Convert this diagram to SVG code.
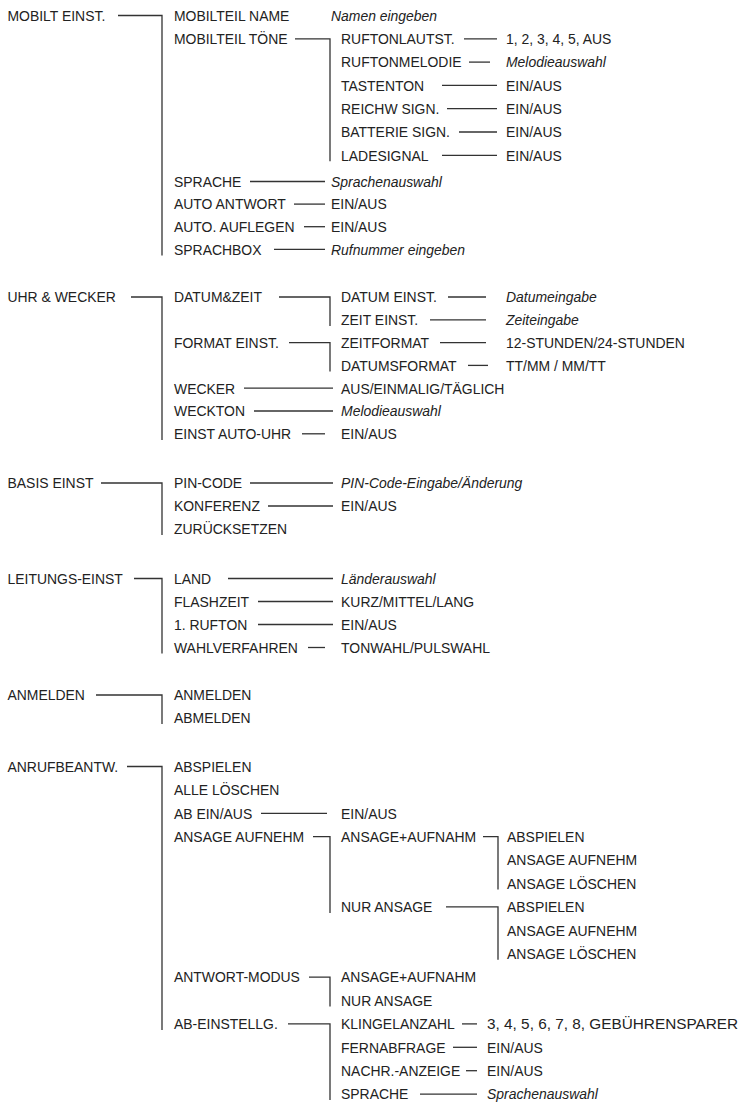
<svg xmlns="http://www.w3.org/2000/svg" width="745" height="1104" viewBox="0 0 745 1104">
<style>
text{font-family:"Liberation Sans",Arial,sans-serif;font-size:15px;fill:#222}
.i{font-style:italic}
#connectors path{fill:none;stroke:#333;stroke-width:1.3}
</style>
<rect width="745" height="1104" fill="#fff"/>
<g id="connectors">
<path d="M118 15.5H162V255.5"/>
<path d="M295 38.8H330V161.3"/>
<path d="M464 38.8H497"/>
<path d="M469 62.1H490"/>
<path d="M442 85.4H497"/>
<path d="M447 108.7H497"/>
<path d="M459 132H497"/>
<path d="M442 155.3H497"/>
<path d="M250 181.5H325"/>
<path d="M294 204.1H325"/>
<path d="M304 226.7H325"/>
<path d="M274 249.3H325"/>
<path d="M131 297H162V440"/>
<path d="M279 297H330V326"/>
<path d="M289 342.6H330V371.4"/>
<path d="M448 297H486"/>
<path d="M430 319.8H486"/>
<path d="M440 342.6H486"/>
<path d="M468 365.4H488"/>
<path d="M244 388.2H333"/>
<path d="M254 411H333"/>
<path d="M302 433.8H325"/>
<path d="M101 483H162V535"/>
<path d="M250 483H333"/>
<path d="M268 506H333"/>
<path d="M134 578.5H162V653.5"/>
<path d="M228 578.5H333"/>
<path d="M258 601.5H333"/>
<path d="M258 624.5H333"/>
<path d="M308 647.5H325"/>
<path d="M96 695H162V724"/>
<path d="M127 766.5H162V1030"/>
<path d="M261 813.3H327"/>
<path d="M313 836.7H330V912.9"/>
<path d="M483 836.7H498V889.5"/>
<path d="M446 906.9H498V959.7"/>
<path d="M309 977.1H330V1006.5"/>
<path d="M288 1023.9H330V1100"/>
<path d="M462 1023.9H477"/>
<path d="M453 1047.3H477"/>
<path d="M466 1070.7H477"/>
<path d="M420 1094.1H477"/>
</g>
<g id="nodes" transform="scale(0.93 1)">
<g id="mobilt-einst"><text x="8.06" y="20.9">MOBILT EINST.</text></g>
<g id="mobilteil-name"><text x="187.1" y="20.9">MOBILTEIL NAME</text><text class="i" x="355.9" y="20.9">Namen eingeben</text></g>
<g id="mobilteil-toene"><text x="187.1" y="44.2">MOBILTEIL TÖNE</text></g>
<g id="ruftonlautst"><text x="366.7" y="44.2">RUFTONLAUTST.</text><text x="544.1" y="44.2">1, 2, 3, 4, 5, AUS</text></g>
<g id="ruftonmelodie"><text x="366.7" y="67.5">RUFTONMELODIE</text><text class="i" x="544.1" y="67.5">Melodieauswahl</text></g>
<g id="tastenton"><text x="366.7" y="90.8">TASTENTON</text><text x="544.1" y="90.8">EIN/AUS</text></g>
<g id="reichw-sign"><text x="366.7" y="114.1">REICHW SIGN.</text><text x="544.1" y="114.1">EIN/AUS</text></g>
<g id="batterie-sign"><text x="366.7" y="137.4">BATTERIE SIGN.</text><text x="544.1" y="137.4">EIN/AUS</text></g>
<g id="ladesignal"><text x="366.7" y="160.7">LADESIGNAL</text><text x="544.1" y="160.7">EIN/AUS</text></g>
<g id="sprache-1"><text x="187.1" y="186.9">SPRACHE</text><text class="i" x="355.9" y="186.9">Sprachenauswahl</text></g>
<g id="auto-antwort"><text x="187.1" y="209.5">AUTO ANTWORT</text><text x="355.9" y="209.5">EIN/AUS</text></g>
<g id="auto-auflegen"><text x="187.1" y="232.1">AUTO. AUFLEGEN</text><text x="355.9" y="232.1">EIN/AUS</text></g>
<g id="sprachbox"><text x="187.1" y="254.7">SPRACHBOX</text><text class="i" x="355.9" y="254.7">Rufnummer eingeben</text></g>

<g id="uhr-wecker"><text x="8.06" y="302.4">UHR &amp; WECKER</text></g>
<g id="datum-zeit"><text x="187.1" y="302.4">DATUM&amp;ZEIT</text></g>
<g id="datum-einst"><text x="366.7" y="302.4">DATUM EINST.</text><text class="i" x="544.1" y="302.4">Datumeingabe</text></g>
<g id="zeit-einst"><text x="366.7" y="325.2">ZEIT EINST.</text><text class="i" x="544.1" y="325.2">Zeiteingabe</text></g>
<g id="format-einst"><text x="187.1" y="348">FORMAT EINST.</text></g>
<g id="zeitformat"><text x="366.7" y="348">ZEITFORMAT</text><text x="544.1" y="348">12-STUNDEN/24-STUNDEN</text></g>
<g id="datumsformat"><text x="366.7" y="370.8">DATUMSFORMAT</text><text x="544.1" y="370.8">TT/MM / MM/TT</text></g>
<g id="wecker"><text x="187.1" y="393.6">WECKER</text><text x="366.7" y="393.6">AUS/EINMALIG/TÄGLICH</text></g>
<g id="weckton"><text x="187.1" y="416.4">WECKTON</text><text class="i" x="366.7" y="416.4">Melodieauswahl</text></g>
<g id="einst-auto-uhr"><text x="187.1" y="439.2">EINST AUTO-UHR</text><text x="366.7" y="439.2">EIN/AUS</text></g>

<g id="basis-einst"><text x="8.06" y="488.4">BASIS EINST</text></g>
<g id="pin-code"><text x="187.1" y="488.4">PIN-CODE</text><text class="i" x="366.7" y="488.4">PIN-Code-Eingabe/Änderung</text></g>
<g id="konferenz"><text x="187.1" y="511.4">KONFERENZ</text><text x="366.7" y="511.4">EIN/AUS</text></g>
<g id="zuruecksetzen"><text x="187.1" y="534.4">ZURÜCKSETZEN</text></g>

<g id="leitungs-einst"><text x="8.06" y="583.9">LEITUNGS-EINST</text></g>
<g id="land"><text x="187.1" y="583.9">LAND</text><text class="i" x="366.7" y="583.9">Länderauswahl</text></g>
<g id="flashzeit"><text x="187.1" y="606.9">FLASHZEIT</text><text x="366.7" y="606.9">KURZ/MITTEL/LANG</text></g>
<g id="rufton-1"><text x="187.1" y="629.9">1. RUFTON</text><text x="366.7" y="629.9">EIN/AUS</text></g>
<g id="wahlverfahren"><text x="187.1" y="652.9">WAHLVERFAHREN</text><text x="366.7" y="652.9">TONWAHL/PULSWAHL</text></g>

<g id="anmelden-menu"><text x="8.06" y="700.4">ANMELDEN</text></g>
<g id="anmelden"><text x="187.1" y="700.4">ANMELDEN</text></g>
<g id="abmelden"><text x="187.1" y="723.4">ABMELDEN</text></g>

<g id="anrufbeantw"><text x="8.06" y="771.9">ANRUFBEANTW.</text></g>
<g id="abspielen"><text x="187.1" y="771.9">ABSPIELEN</text></g>
<g id="alle-loeschen"><text x="187.1" y="795.3">ALLE LÖSCHEN</text></g>
<g id="ab-ein-aus"><text x="187.1" y="818.7">AB EIN/AUS</text><text x="366.7" y="818.7">EIN/AUS</text></g>
<g id="ansage-aufnehm"><text x="187.1" y="842.1">ANSAGE AUFNEHM</text></g>
<g id="ansage-aufnahm-1"><text x="366.7" y="842.1">ANSAGE+AUFNAHM</text></g>
<g id="aa-abspielen"><text x="545.2" y="842.1">ABSPIELEN</text></g>
<g id="aa-ansage-aufnehm"><text x="545.2" y="865.5">ANSAGE AUFNEHM</text></g>
<g id="aa-ansage-loeschen"><text x="545.2" y="888.9">ANSAGE LÖSCHEN</text></g>
<g id="nur-ansage-1"><text x="366.7" y="912.3">NUR ANSAGE</text></g>
<g id="na-abspielen"><text x="545.2" y="912.3">ABSPIELEN</text></g>
<g id="na-ansage-aufnehm"><text x="545.2" y="935.7">ANSAGE AUFNEHM</text></g>
<g id="na-ansage-loeschen"><text x="545.2" y="959.1">ANSAGE LÖSCHEN</text></g>
<g id="antwort-modus"><text x="187.1" y="982.5">ANTWORT-MODUS</text></g>
<g id="ansage-aufnahm-2"><text x="366.7" y="982.5">ANSAGE+AUFNAHM</text></g>
<g id="nur-ansage-2"><text x="366.7" y="1005.9">NUR ANSAGE</text></g>
<g id="ab-einstellg"><text x="187.1" y="1029.3">AB-EINSTELLG.</text></g>
<g id="klingelanzahl"><text x="366.7" y="1029.3">KLINGELANZAHL</text><text x="523.7" y="1029.3" textLength="270" lengthAdjust="spacingAndGlyphs">3, 4, 5, 6, 7, 8, GEBÜHRENSPARER</text></g>
<g id="fernabfrage"><text x="366.7" y="1052.7">FERNABFRAGE</text><text x="523.7" y="1052.7">EIN/AUS</text></g>
<g id="nachr-anzeige"><text x="366.7" y="1076.1">NACHR.-ANZEIGE</text><text x="523.7" y="1076.1">EIN/AUS</text></g>
<g id="sprache-2"><text x="366.7" y="1099.5">SPRACHE</text><text class="i" x="523.7" y="1099.5">Sprachenauswahl</text></g>
</g>
</svg>
